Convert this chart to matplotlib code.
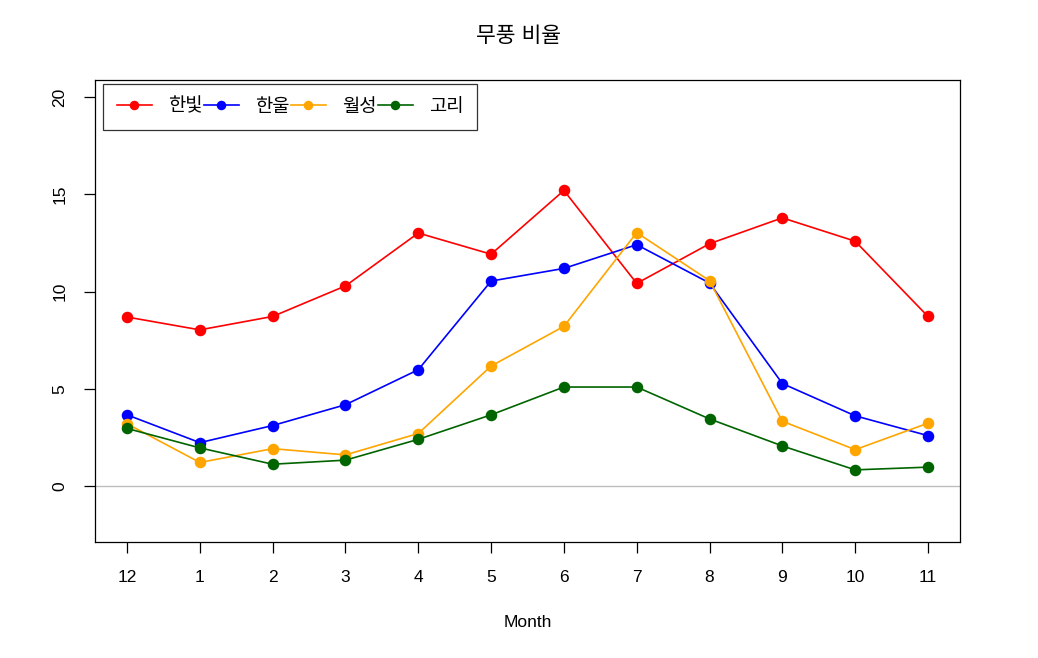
# 무풍 비율 by month for four plant sites, R base-graphics look
import matplotlib
matplotlib.use("Agg")
import matplotlib.pyplot as plt

plt.rcParams["font.family"] = ["Liberation Sans", "Noto Sans CJK KR", "DejaVu Sans"]

months = ["12", "1", "2", "3", "4", "5", "6", "7", "8", "9", "10", "11"]
hanbit = [8.69, 8.03, 8.72, 10.29, 13.01, 11.92, 15.2, 10.42, 12.46, 13.79, 12.59, 8.72]
hanul = [3.66, 2.23, 3.11, 4.18, 5.98, 10.54, 11.19, 12.41, 10.44, 5.27, 3.61, 2.59]
wolsong = [3.2, 1.21, 1.92, 1.6, 2.70, 6.17, 8.21, 13.03, 10.56, 3.33, 1.87, 3.23]
gori = [2.96, 1.96, 1.12, 1.33, 2.40, 3.66, 5.09, 5.09, 3.45, 2.06, 0.83, 0.97]

series = [("한빛", hanbit, "red"), ("한울", hanul, "blue"),
          ("월성", wolsong, "orange"), ("고리", gori, "darkgreen")]

W, H = 1038, 658
fig = plt.figure(figsize=(W / 100, H / 100), dpi=100)
ax = fig.add_axes([95 / W, 1 - 542 / H, 865 / W, 462 / H])

x = list(range(1, len(months) + 1))
ax.axhline(0, color="#BEBEBE", lw=1.0, zorder=1)
for name, vals, col in series:
    ax.plot(x, vals, color=col, lw=1.2, marker="o", ms=7.3, label=name, zorder=3)

ax.set_xlim(1 - 0.44, 12 + 0.44)
ax.set_ylim(-2.88, 20.88)
ax.set_xticks(x)
ax.set_xticklabels(months)
ax.set_yticks([0, 5, 10, 15, 20])
ax.set_yticklabels(["0", "5", "10", "15", "20"], rotation=90, va="center")
ax.tick_params(axis="both", length=8, width=0.9, labelsize=12.5, pad=12)
for sp in ax.spines.values():
    sp.set_linewidth(0.9)

ax.set_xlabel("Month", fontsize=12.5, labelpad=22)
fig.suptitle("무풍 비율", fontsize=15.5, y=1 - 37 / H, va="center")

leg = ax.legend(loc="upper left", bbox_to_anchor=(8 / 865, 1 - 4 / 462),
                borderaxespad=0, ncol=4, fontsize=13.5, frameon=True, fancybox=False,
                edgecolor="black", handlelength=1.85, handletextpad=0.85,
                columnspacing=0.1, borderpad=0.75, markerscale=0.8)
leg.get_frame().set_linewidth(0.9)

fig.savefig("out.png", dpi=100)
